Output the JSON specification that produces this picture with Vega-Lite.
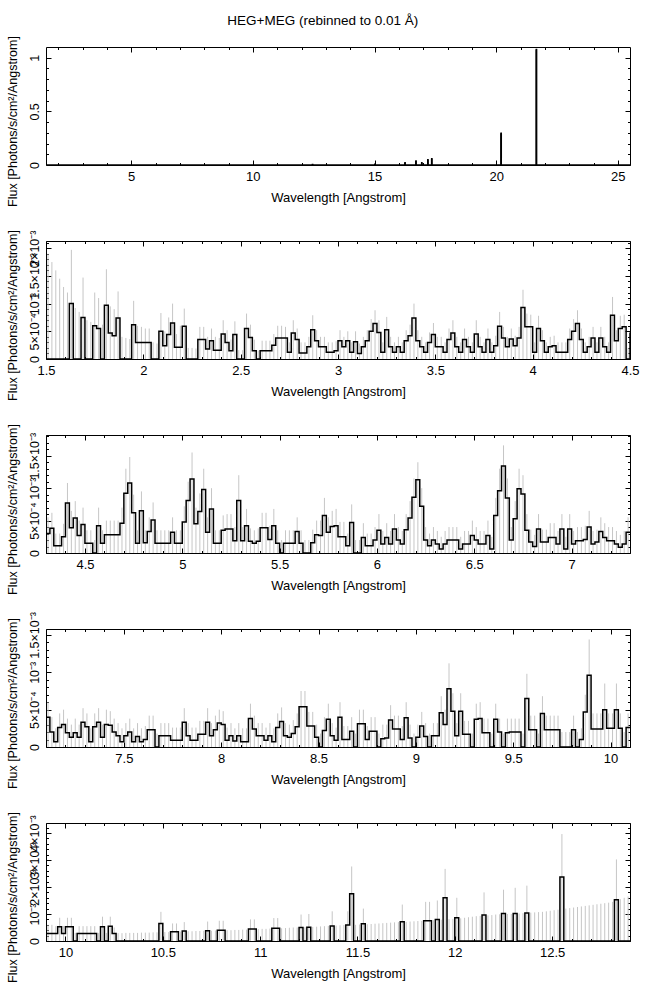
{
"$schema":"https://vega.github.io/schema/vega-lite/v6.json",
"padding":{"left":5,"top":13,"right":14,"bottom":5},
"title":{"text":"HEG+MEG (rebinned to 0.01 Å)","fontSize":13.5,"fontWeight":"normal","font":"Liberation Sans","anchor":"middle","offset":8,"color":"black"},
"config":{
 "view":{"stroke":"black","strokeWidth":1},
 "axis":{"labelFont":"Liberation Sans","labelFontSize":13,"titleFont":"Liberation Sans","titleFontSize":13,"titleFontWeight":"normal","labelColor":"black","titleColor":"black","tickColor":"black","domain":false,"grid":false,"labelOverlap":false,"labelFlush":false,"labelBound":false,"zindex":1,"tickWidth":1},
 "axisY":{"titleFontSize":12.5,"labelFontSize":12.5,"titleY":74}
},
"datasets":{
"p1":[{"w":1.5,"f":0},{"w":12.45,"f":0.004},{"w":12.46,"f":0},{"w":15.01,"f":0.006},{"w":15.02,"f":0},{"w":16.25,"f":0.02},{"w":16.26,"f":0},{"w":16.7,"f":0.037},{"w":16.71,"f":0},{"w":16.94,"f":0.02},{"w":16.95,"f":0},{"w":17.19,"f":0.05},{"w":17.2,"f":0},{"w":17.35,"f":0.058},{"w":17.36,"f":0},{"w":20.2,"f":0.296},{"w":20.21,"f":0},{"w":21.65,"f":1.077},{"w":21.66,"f":0},{"w":25.5,"f":0}],
"p2":[{"w":1.5,"f":0,"h":1.9e-3},{"w":1.52,"f":0,"h":1.75e-3},{"w":1.54,"f":0,"h":1.6e-3},{"w":1.56,"f":0,"h":1.45e-3},{"w":1.58,"f":0,"h":1.3e-3},{"w":1.6,"f":0,"h":1.2e-3},{"w":1.62,"f":1e-3,"h":1.97e-3},{"w":1.64,"f":0,"h":9.2e-4},{"w":1.66,"f":0,"h":8.5e-4},{"w":1.68,"f":7.5e-4,"h":1.47e-3},{"w":1.7,"f":0,"h":7e-4},{"w":1.72,"f":0,"h":6.7e-4},{"w":1.74,"f":6e-4,"h":1.2e-3},{"w":1.76,"f":5.5e-4,"h":1.1e-3},{"w":1.78,"f":0,"h":6.2e-4},{"w":1.8,"f":9.7e-4,"h":1.62e-3},{"w":1.82,"f":4.7e-4,"h":9.5e-4},{"w":1.84,"f":4.2e-4,"h":9e-4},{"w":1.86,"f":7.4e-4,"h":1.22e-3},{"w":1.88,"f":0,"h":4e-4},{"w":1.9,"f":0,"h":3.8e-4},{"w":1.92,"f":0,"h":3.6e-4},{"w":1.94,"f":6.2e-4,"h":1.05e-3},{"w":1.96,"f":3e-4,"h":6e-4},{"w":1.98,"f":3e-4,"h":5.8e-4},{"w":2,"f":3e-4,"h":5.5e-4},{"w":2.02,"f":3e-4,"h":5.5e-4},{"w":2.04,"f":0,"h":3e-4},{"w":2.06,"f":0,"h":2.8e-4},{"w":2.08,"f":5e-4,"h":8.3e-4},{"w":2.1,"f":2.4e-4,"h":5e-4},{"w":2.12,"f":4.4e-4,"h":7.5e-4},{"w":2.14,"f":6.5e-4,"h":1e-3},{"w":2.16,"f":2.1e-4,"h":4.5e-4},{"w":2.18,"f":2.1e-4,"h":6e-4},{"w":2.2,"f":5.9e-4,"h":9.1e-4},{"w":2.22,"f":0,"h":2e-4},{"w":2.24,"f":0,"h":2e-4},{"w":2.26,"f":0,"h":1.9e-4},{"w":2.28,"f":3.5e-4,"h":5.8e-4},{"w":2.3,"f":3.5e-4,"h":5.8e-4},{"w":2.32,"f":1.8e-4,"h":4e-4},{"w":2.34,"f":3.3e-4,"h":5.5e-4},{"w":2.36,"f":1.6e-4,"h":4e-4},{"w":2.38,"f":1.6e-4,"h":3.8e-4},{"w":2.4,"f":4.5e-4,"h":7e-4},{"w":2.42,"f":3e-4,"h":5.2e-4},{"w":2.44,"f":1.5e-4,"h":3.5e-4},{"w":2.46,"f":4.4e-4,"h":6.8e-4},{"w":2.48,"f":0,"h":1.6e-4},{"w":2.5,"f":0,"h":1.6e-4},{"w":2.52,"f":5.5e-4,"h":8.2e-4},{"w":2.54,"f":3.9e-4,"h":6.2e-4},{"w":2.56,"f":1.5e-4,"h":3.5e-4},{"w":2.58,"f":0,"h":1.5e-4},{"w":2.6,"f":1.5e-4,"h":3.3e-4},{"w":2.62,"f":1.5e-4,"h":3.3e-4},{"w":2.64,"f":1.5e-4,"h":3.3e-4},{"w":2.66,"f":2.5e-4,"h":4.5e-4},{"w":2.68,"f":3.8e-4,"h":6e-4},{"w":2.7,"f":3.8e-4,"h":6e-4},{"w":2.72,"f":3.8e-4,"h":5.8e-4},{"w":2.74,"f":1.2e-4,"h":3e-4},{"w":2.76,"f":4.7e-4,"h":7e-4},{"w":2.78,"f":3.5e-4,"h":5.5e-4},{"w":2.8,"f":1.1e-4,"h":3e-4},{"w":2.82,"f":1.1e-4,"h":3e-4},{"w":2.84,"f":2.2e-4,"h":4e-4},{"w":2.86,"f":5.3e-4,"h":7.9e-4},{"w":2.88,"f":3.3e-4,"h":5.2e-4},{"w":2.9,"f":2.2e-4,"h":4e-4},{"w":2.92,"f":2.2e-4,"h":4e-4},{"w":2.94,"f":1.2e-4,"h":3e-4},{"w":2.96,"f":1.2e-4,"h":3e-4},{"w":2.98,"f":1.5e-4,"h":3.2e-4},{"w":3,"f":3.3e-4,"h":5.2e-4},{"w":3.02,"f":2.2e-4,"h":4e-4},{"w":3.04,"f":3.3e-4,"h":5e-4},{"w":3.06,"f":1.2e-4,"h":3e-4},{"w":3.08,"f":3.1e-4,"h":5e-4},{"w":3.1,"f":1e-4,"h":2.8e-4},{"w":3.12,"f":2.2e-4,"h":4e-4},{"w":3.14,"f":3.3e-4,"h":5.2e-4},{"w":3.16,"f":5e-4,"h":7.2e-4},{"w":3.18,"f":6.4e-4,"h":8.8e-4},{"w":3.2,"f":4.8e-4,"h":7e-4},{"w":3.22,"f":1.2e-4,"h":3e-4},{"w":3.24,"f":5.3e-4,"h":7.6e-4},{"w":3.26,"f":2.2e-4,"h":4e-4},{"w":3.28,"f":1.2e-4,"h":3e-4},{"w":3.3,"f":2.2e-4,"h":4e-4},{"w":3.32,"f":1.2e-4,"h":3e-4},{"w":3.34,"f":3.3e-4,"h":5.2e-4},{"w":3.36,"f":4.2e-4,"h":6.2e-4},{"w":3.38,"f":7.4e-4,"h":1e-3},{"w":3.4,"f":3.3e-4,"h":5.2e-4},{"w":3.42,"f":2.2e-4,"h":4e-4},{"w":3.44,"f":1.2e-4,"h":3e-4},{"w":3.46,"f":3e-4,"h":4.8e-4},{"w":3.48,"f":4.4e-4,"h":6.5e-4},{"w":3.5,"f":2.2e-4,"h":4e-4},{"w":3.52,"f":2.2e-4,"h":4e-4},{"w":3.54,"f":1.2e-4,"h":3e-4},{"w":3.56,"f":3.5e-4,"h":5.5e-4},{"w":3.58,"f":4.7e-4,"h":7e-4},{"w":3.6,"f":2.2e-4,"h":4e-4},{"w":3.62,"f":1.2e-4,"h":3e-4},{"w":3.64,"f":3.5e-4,"h":5.5e-4},{"w":3.66,"f":2.2e-4,"h":4e-4},{"w":3.68,"f":1.2e-4,"h":3e-4},{"w":3.7,"f":4.5e-4,"h":7e-4},{"w":3.72,"f":2.2e-4,"h":4e-4},{"w":3.74,"f":1.2e-4,"h":3e-4},{"w":3.76,"f":3.5e-4,"h":5.5e-4},{"w":3.78,"f":1.2e-4,"h":3e-4},{"w":3.8,"f":2.4e-4,"h":4.2e-4},{"w":3.82,"f":5.9e-4,"h":8.5e-4},{"w":3.84,"f":3.8e-4,"h":5.8e-4},{"w":3.86,"f":2.2e-4,"h":4e-4},{"w":3.88,"f":3.6e-4,"h":5.5e-4},{"w":3.9,"f":2.4e-4,"h":4.2e-4},{"w":3.92,"f":3.8e-4,"h":5.8e-4},{"w":3.94,"f":9.3e-4,"h":1.25e-3},{"w":3.96,"f":5.8e-4,"h":8.2e-4},{"w":3.98,"f":5.8e-4,"h":8e-4},{"w":4,"f":1.2e-4,"h":3e-4},{"w":4.02,"f":5.5e-4,"h":7.8e-4},{"w":4.04,"f":3.3e-4,"h":5.2e-4},{"w":4.06,"f":1.2e-4,"h":3e-4},{"w":4.08,"f":2.2e-4,"h":4e-4},{"w":4.1,"f":2.4e-4,"h":4.2e-4},{"w":4.12,"f":1.2e-4,"h":3e-4},{"w":4.14,"f":1.2e-4,"h":3e-4},{"w":4.16,"f":1.2e-4,"h":3e-4},{"w":4.18,"f":3.5e-4,"h":5.5e-4},{"w":4.2,"f":5e-4,"h":7.2e-4},{"w":4.22,"f":6.4e-4,"h":8.8e-4},{"w":4.24,"f":3.5e-4,"h":5.5e-4},{"w":4.26,"f":1.2e-4,"h":3e-4},{"w":4.28,"f":2.2e-4,"h":4e-4},{"w":4.3,"f":3.8e-4,"h":5.8e-4},{"w":4.32,"f":1.2e-4,"h":3e-4},{"w":4.34,"f":3.8e-4,"h":5.8e-4},{"w":4.36,"f":2.2e-4,"h":4e-4},{"w":4.38,"f":1.2e-4,"h":3e-4},{"w":4.4,"f":7.9e-4,"h":1.12e-3},{"w":4.42,"f":3.3e-4,"h":5.2e-4},{"w":4.44,"f":5.5e-4,"h":7.8e-4},{"w":4.46,"f":5.8e-4,"h":8e-4},{"w":4.48,"f":0,"h":2e-4},{"w":4.5,"f":4.8e-4,"h":0}],
"p3":[{"w":4.3,"f":3e-4,"h":5.5e-4},{"w":4.32,"f":3.8e-4,"h":6.2e-4},{"w":4.34,"f":1.1e-4,"h":3e-4},{"w":4.36,"f":1.1e-4,"h":3e-4},{"w":4.38,"f":2.5e-4,"h":4.5e-4},{"w":4.4,"f":7.7e-4,"h":1.08e-3},{"w":4.42,"f":3.9e-4,"h":6.5e-4},{"w":4.44,"f":5.4e-4,"h":8e-4},{"w":4.46,"f":2.7e-4,"h":5e-4},{"w":4.48,"f":4.4e-4,"h":7e-4},{"w":4.5,"f":1.5e-4,"h":3.5e-4},{"w":4.52,"f":1.5e-4,"h":3.5e-4},{"w":4.54,"f":0,"h":2e-4},{"w":4.56,"f":4.2e-4,"h":7e-4},{"w":4.58,"f":1.5e-4,"h":3.5e-4},{"w":4.6,"f":2.8e-4,"h":5e-4},{"w":4.62,"f":2.8e-4,"h":5e-4},{"w":4.64,"f":2.8e-4,"h":5e-4},{"w":4.66,"f":2.8e-4,"h":5e-4},{"w":4.68,"f":4.6e-4,"h":7e-4},{"w":4.7,"f":9.2e-4,"h":1.3e-3},{"w":4.72,"f":1.08e-3,"h":1.48e-3},{"w":4.74,"f":6.2e-4,"h":9e-4},{"w":4.76,"f":1.5e-4,"h":3.5e-4},{"w":4.78,"f":6.5e-4,"h":9.5e-4},{"w":4.8,"f":1.6e-4,"h":3.5e-4},{"w":4.82,"f":3.3e-4,"h":5.5e-4},{"w":4.84,"f":5.1e-4,"h":7.8e-4},{"w":4.86,"f":1.5e-4,"h":3.5e-4},{"w":4.88,"f":1.5e-4,"h":3.5e-4},{"w":4.9,"f":1.5e-4,"h":3.5e-4},{"w":4.92,"f":1.5e-4,"h":3.5e-4},{"w":4.94,"f":3.2e-4,"h":5.5e-4},{"w":4.96,"f":1.5e-4,"h":3.5e-4},{"w":4.98,"f":1.5e-4,"h":3.5e-4},{"w":5,"f":4.8e-4,"h":7.2e-4},{"w":5.02,"f":8.1e-4,"h":1.1e-3},{"w":5.04,"f":1.14e-3,"h":1.55e-3},{"w":5.06,"f":4.5e-4,"h":7e-4},{"w":5.08,"f":6.4e-4,"h":9.2e-4},{"w":5.1,"f":9.8e-4,"h":1.3e-3},{"w":5.12,"f":3.2e-4,"h":5.5e-4},{"w":5.14,"f":6.8e-4,"h":1e-3},{"w":5.16,"f":1.5e-4,"h":3.5e-4},{"w":5.18,"f":1.5e-4,"h":3.5e-4},{"w":5.2,"f":3.5e-4,"h":5.8e-4},{"w":5.22,"f":3.7e-4,"h":6e-4},{"w":5.24,"f":3.7e-4,"h":6e-4},{"w":5.26,"f":1.9e-4,"h":4e-4},{"w":5.28,"f":8.1e-4,"h":1.2e-3},{"w":5.3,"f":1.9e-4,"h":4e-4},{"w":5.32,"f":4.2e-4,"h":6.8e-4},{"w":5.34,"f":1.8e-4,"h":3.8e-4},{"w":5.36,"f":1.5e-4,"h":3.5e-4},{"w":5.38,"f":1.8e-4,"h":3.8e-4},{"w":5.4,"f":3.9e-4,"h":6.2e-4},{"w":5.42,"f":3.9e-4,"h":6.2e-4},{"w":5.44,"f":2.1e-4,"h":4.2e-4},{"w":5.46,"f":4.2e-4,"h":6.8e-4},{"w":5.48,"f":1.5e-4,"h":3.5e-4},{"w":5.5,"f":0,"h":2e-4},{"w":5.52,"f":1.5e-4,"h":3.5e-4},{"w":5.54,"f":1.5e-4,"h":3.5e-4},{"w":5.56,"f":1.5e-4,"h":3.5e-4},{"w":5.58,"f":3.3e-4,"h":5.5e-4},{"w":5.6,"f":1.5e-4,"h":3.5e-4},{"w":5.62,"f":0,"h":2e-4},{"w":5.64,"f":0,"h":2e-4},{"w":5.66,"f":1.6e-4,"h":3.6e-4},{"w":5.68,"f":2.8e-4,"h":5e-4},{"w":5.7,"f":2.7e-4,"h":5e-4},{"w":5.72,"f":5.8e-4,"h":8.5e-4},{"w":5.74,"f":3.2e-4,"h":5.5e-4},{"w":5.76,"f":4.1e-4,"h":6.5e-4},{"w":5.78,"f":4.2e-4,"h":6.8e-4},{"w":5.8,"f":2.5e-4,"h":4.8e-4},{"w":5.82,"f":2.5e-4,"h":4.8e-4},{"w":5.84,"f":1.1e-4,"h":3e-4},{"w":5.86,"f":4.7e-4,"h":7.5e-4},{"w":5.88,"f":0,"h":2e-4},{"w":5.9,"f":0,"h":2e-4},{"w":5.92,"f":2.4e-4,"h":4.6e-4},{"w":5.94,"f":1.1e-4,"h":3e-4},{"w":5.96,"f":1.1e-4,"h":3e-4},{"w":5.98,"f":2e-4,"h":4e-4},{"w":6,"f":3.5e-4,"h":6e-4},{"w":6.02,"f":1.4e-4,"h":3.4e-4},{"w":6.04,"f":2.4e-4,"h":4.6e-4},{"w":6.06,"f":1.4e-4,"h":3.4e-4},{"w":6.08,"f":3.7e-4,"h":6e-4},{"w":6.1,"f":2e-4,"h":4e-4},{"w":6.12,"f":1.4e-4,"h":3.4e-4},{"w":6.14,"f":3.6e-4,"h":6e-4},{"w":6.16,"f":5.4e-4,"h":8e-4},{"w":6.18,"f":8.6e-4,"h":1.15e-3},{"w":6.2,"f":1.13e-3,"h":1.4e-3},{"w":6.22,"f":7.2e-4,"h":1e-3},{"w":6.24,"f":2e-4,"h":4e-4},{"w":6.26,"f":1.1e-4,"h":3e-4},{"w":6.28,"f":2e-4,"h":4e-4},{"w":6.3,"f":1.4e-4,"h":3.4e-4},{"w":6.32,"f":6e-5,"h":2.5e-4},{"w":6.34,"f":1.4e-4,"h":3.4e-4},{"w":6.36,"f":2e-4,"h":4e-4},{"w":6.38,"f":2e-4,"h":4e-4},{"w":6.4,"f":2e-4,"h":4e-4},{"w":6.42,"f":6e-5,"h":2.5e-4},{"w":6.44,"f":1.4e-4,"h":3.4e-4},{"w":6.46,"f":1.4e-4,"h":3.4e-4},{"w":6.48,"f":2.7e-4,"h":5e-4},{"w":6.5,"f":2e-4,"h":4e-4},{"w":6.52,"f":1.4e-4,"h":3.4e-4},{"w":6.54,"f":1.4e-4,"h":3.4e-4},{"w":6.56,"f":2.7e-4,"h":5e-4},{"w":6.58,"f":6e-5,"h":2.5e-4},{"w":6.6,"f":5.8e-4,"h":8.5e-4},{"w":6.62,"f":9.6e-4,"h":1.3e-3},{"w":6.64,"f":1.34e-3,"h":1.66e-3},{"w":6.66,"f":8.5e-4,"h":1.15e-3},{"w":6.68,"f":2e-4,"h":4e-4},{"w":6.7,"f":5.3e-4,"h":8e-4},{"w":6.72,"f":9.9e-4,"h":1.3e-3},{"w":6.74,"f":9.1e-4,"h":1.2e-3},{"w":6.76,"f":3.5e-4,"h":6e-4},{"w":6.78,"f":1.7e-4,"h":3.6e-4},{"w":6.8,"f":1e-4,"h":2.8e-4},{"w":6.82,"f":3.7e-4,"h":6e-4},{"w":6.84,"f":1.7e-4,"h":3.6e-4},{"w":6.86,"f":1.7e-4,"h":3.6e-4},{"w":6.88,"f":2.4e-4,"h":4.6e-4},{"w":6.9,"f":2.4e-4,"h":4.6e-4},{"w":6.92,"f":1.4e-4,"h":3.4e-4},{"w":6.94,"f":3.7e-4,"h":6e-4},{"w":6.96,"f":6e-5,"h":2.5e-4},{"w":6.98,"f":3.7e-4,"h":6e-4},{"w":7,"f":1.4e-4,"h":3.4e-4},{"w":7.02,"f":1.9e-4,"h":4e-4},{"w":7.04,"f":1.9e-4,"h":4e-4},{"w":7.06,"f":2.1e-4,"h":4.2e-4},{"w":7.08,"f":4e-4,"h":6.5e-4},{"w":7.1,"f":1.4e-4,"h":3.4e-4},{"w":7.12,"f":1.7e-4,"h":3.6e-4},{"w":7.14,"f":3.3e-4,"h":5.5e-4},{"w":7.16,"f":2.4e-4,"h":4.6e-4},{"w":7.18,"f":1.9e-4,"h":4e-4},{"w":7.2,"f":1.9e-4,"h":4e-4},{"w":7.22,"f":1.4e-4,"h":3.4e-4},{"w":7.24,"f":9e-5,"h":2.8e-4},{"w":7.26,"f":1.4e-4,"h":3.4e-4},{"w":7.28,"f":3.2e-4,"h":5.5e-4},{"w":7.3,"f":3.2e-4,"h":0}],
"p4":[{"w":7.1,"f":4e-4,"h":6e-4},{"w":7.12,"f":2e-4,"h":4e-4},{"w":7.14,"f":7e-5,"h":2.5e-4},{"w":7.16,"f":2.6e-4,"h":4.5e-4},{"w":7.18,"f":3e-4,"h":5e-4},{"w":7.2,"f":1.9e-4,"h":3.8e-4},{"w":7.22,"f":1.3e-4,"h":3e-4},{"w":7.24,"f":1.9e-4,"h":3.8e-4},{"w":7.26,"f":1.3e-4,"h":3e-4},{"w":7.28,"f":3.3e-4,"h":5.2e-4},{"w":7.3,"f":2.7e-4,"h":4.5e-4},{"w":7.32,"f":7e-5,"h":2.5e-4},{"w":7.34,"f":2.7e-4,"h":4.5e-4},{"w":7.36,"f":3.3e-4,"h":5.2e-4},{"w":7.38,"f":1.3e-4,"h":3e-4},{"w":7.4,"f":3e-4,"h":5e-4},{"w":7.42,"f":2.9e-4,"h":4.8e-4},{"w":7.44,"f":2e-4,"h":3.8e-4},{"w":7.46,"f":1.5e-4,"h":3.2e-4},{"w":7.48,"f":7e-5,"h":2.5e-4},{"w":7.5,"f":1.5e-4,"h":3.2e-4},{"w":7.52,"f":2e-4,"h":3.8e-4},{"w":7.54,"f":7e-5,"h":2.5e-4},{"w":7.56,"f":1.4e-4,"h":3.2e-4},{"w":7.58,"f":7e-5,"h":2.5e-4},{"w":7.6,"f":1e-4,"h":2.8e-4},{"w":7.62,"f":2.3e-4,"h":4.2e-4},{"w":7.64,"f":2.3e-4,"h":4.2e-4},{"w":7.66,"f":0,"h":1.8e-4},{"w":7.68,"f":1.5e-4,"h":3.2e-4},{"w":7.7,"f":1.5e-4,"h":3.2e-4},{"w":7.72,"f":1.5e-4,"h":3.2e-4},{"w":7.74,"f":9e-5,"h":2.6e-4},{"w":7.76,"f":9e-5,"h":2.6e-4},{"w":7.78,"f":9e-5,"h":2.6e-4},{"w":7.8,"f":3.3e-4,"h":5.2e-4},{"w":7.82,"f":1.5e-4,"h":3.2e-4},{"w":7.84,"f":9e-5,"h":2.6e-4},{"w":7.86,"f":9e-5,"h":2.6e-4},{"w":7.88,"f":1.7e-4,"h":3.5e-4},{"w":7.9,"f":1.7e-4,"h":3.5e-4},{"w":7.92,"f":3.3e-4,"h":5.2e-4},{"w":7.94,"f":1.5e-4,"h":3.2e-4},{"w":7.96,"f":2.3e-4,"h":4.2e-4},{"w":7.98,"f":3.2e-4,"h":5e-4},{"w":8,"f":3e-4,"h":4.8e-4},{"w":8.02,"f":9e-5,"h":2.6e-4},{"w":8.04,"f":1.5e-4,"h":3.2e-4},{"w":8.06,"f":8e-5,"h":2.5e-4},{"w":8.08,"f":1.5e-4,"h":3.2e-4},{"w":8.1,"f":7e-5,"h":2.5e-4},{"w":8.12,"f":7e-5,"h":2.5e-4},{"w":8.14,"f":3.8e-4,"h":5.8e-4},{"w":8.16,"f":2.4e-4,"h":4.2e-4},{"w":8.18,"f":1.5e-4,"h":3.2e-4},{"w":8.2,"f":1.5e-4,"h":3.2e-4},{"w":8.22,"f":9e-5,"h":2.6e-4},{"w":8.24,"f":1.5e-4,"h":3.2e-4},{"w":8.26,"f":7e-5,"h":2.5e-4},{"w":8.28,"f":2.6e-4,"h":4.5e-4},{"w":8.3,"f":3.4e-4,"h":5.3e-4},{"w":8.32,"f":1.5e-4,"h":3.2e-4},{"w":8.34,"f":1.3e-4,"h":3e-4},{"w":8.36,"f":1.8e-4,"h":3.6e-4},{"w":8.38,"f":2.7e-4,"h":4.5e-4},{"w":8.4,"f":5.4e-4,"h":7.5e-4},{"w":8.42,"f":5.4e-4,"h":7.5e-4},{"w":8.44,"f":2.8e-4,"h":4.7e-4},{"w":8.46,"f":2.8e-4,"h":4.7e-4},{"w":8.48,"f":1.3e-4,"h":3e-4},{"w":8.5,"f":0,"h":1.8e-4},{"w":8.52,"f":2.2e-4,"h":4e-4},{"w":8.54,"f":3.7e-4,"h":5.8e-4},{"w":8.56,"f":1.5e-4,"h":3.2e-4},{"w":8.58,"f":9e-5,"h":2.6e-4},{"w":8.6,"f":4e-4,"h":6e-4},{"w":8.62,"f":1e-4,"h":2.8e-4},{"w":8.64,"f":1e-4,"h":2.8e-4},{"w":8.66,"f":2.1e-4,"h":4e-4},{"w":8.68,"f":0,"h":1.8e-4},{"w":8.7,"f":3.1e-4,"h":5e-4},{"w":8.72,"f":3.1e-4,"h":5e-4},{"w":8.74,"f":1e-4,"h":2.8e-4},{"w":8.76,"f":2.1e-4,"h":4e-4},{"w":8.78,"f":2.1e-4,"h":4e-4},{"w":8.8,"f":0,"h":1.8e-4},{"w":8.82,"f":1.1e-4,"h":3e-4},{"w":8.84,"f":1.2e-4,"h":3e-4},{"w":8.86,"f":3.6e-4,"h":5.6e-4},{"w":8.88,"f":2.4e-4,"h":4.2e-4},{"w":8.9,"f":2.4e-4,"h":4.2e-4},{"w":8.92,"f":1e-4,"h":2.8e-4},{"w":8.94,"f":3.9e-4,"h":6e-4},{"w":8.96,"f":1.2e-4,"h":3e-4},{"w":8.98,"f":0,"h":1.8e-4},{"w":9,"f":1.3e-4,"h":3e-4},{"w":9.02,"f":2.8e-4,"h":4.7e-4},{"w":9.04,"f":1.4e-4,"h":3.2e-4},{"w":9.06,"f":0,"h":1.8e-4},{"w":9.08,"f":1.5e-4,"h":3.2e-4},{"w":9.1,"f":1.5e-4,"h":3.2e-4},{"w":9.12,"f":4.6e-4,"h":6.8e-4},{"w":9.14,"f":3e-4,"h":5e-4},{"w":9.16,"f":7.8e-4,"h":1.12e-3},{"w":9.18,"f":4.8e-4,"h":7.2e-4},{"w":9.2,"f":1.5e-4,"h":3.2e-4},{"w":9.22,"f":4.8e-4,"h":7.2e-4},{"w":9.24,"f":1.7e-4,"h":3.5e-4},{"w":9.26,"f":1.7e-4,"h":3.5e-4},{"w":9.28,"f":0,"h":1.8e-4},{"w":9.3,"f":3.7e-4,"h":5.8e-4},{"w":9.32,"f":3.8e-4,"h":6e-4},{"w":9.34,"f":1.9e-4,"h":3.8e-4},{"w":9.36,"f":1.9e-4,"h":3.8e-4},{"w":9.38,"f":0,"h":1.8e-4},{"w":9.4,"f":3.7e-4,"h":5.8e-4},{"w":9.42,"f":2e-4,"h":3.8e-4},{"w":9.44,"f":0,"h":1.8e-4},{"w":9.46,"f":1.9e-4,"h":3.8e-4},{"w":9.48,"f":2e-4,"h":3.8e-4},{"w":9.5,"f":2e-4,"h":3.8e-4},{"w":9.52,"f":2e-4,"h":3.8e-4},{"w":9.54,"f":0,"h":1.8e-4},{"w":9.56,"f":6.5e-4,"h":9.8e-4},{"w":9.58,"f":2.3e-4,"h":4.2e-4},{"w":9.6,"f":2.3e-4,"h":4.2e-4},{"w":9.62,"f":0,"h":1.8e-4},{"w":9.64,"f":4.5e-4,"h":6.8e-4},{"w":9.66,"f":2.3e-4,"h":4.2e-4},{"w":9.68,"f":2.3e-4,"h":4.2e-4},{"w":9.7,"f":2.3e-4,"h":4.2e-4},{"w":9.72,"f":2.3e-4,"h":4.2e-4},{"w":9.74,"f":0,"h":2e-4},{"w":9.76,"f":0,"h":2e-4},{"w":9.78,"f":0,"h":2e-4},{"w":9.8,"f":2.3e-4,"h":4.2e-4},{"w":9.82,"f":0,"h":2e-4},{"w":9.84,"f":1e-4,"h":2.5e-4},{"w":9.86,"f":4.7e-4,"h":7e-4},{"w":9.88,"f":9.6e-4,"h":1.44e-3},{"w":9.9,"f":2.4e-4,"h":4.5e-4},{"w":9.92,"f":2.4e-4,"h":4.5e-4},{"w":9.94,"f":2.4e-4,"h":4.5e-4},{"w":9.96,"f":5e-4,"h":8.5e-4},{"w":9.98,"f":2.5e-4,"h":4.5e-4},{"w":10,"f":2.5e-4,"h":4.5e-4},{"w":10.02,"f":5e-4,"h":8.5e-4},{"w":10.04,"f":2.5e-4,"h":4.5e-4},{"w":10.06,"f":0,"h":2e-4},{"w":10.08,"f":2.6e-4,"h":4.5e-4},{"w":10.1,"f":2.6e-4,"h":0}],
"p5":[{"w":9.9,"f":2.8e-4,"h":6e-4},{"w":9.92,"f":2.8e-4,"h":6e-4},{"w":9.94,"f":2.8e-4,"h":5.5e-4},{"w":9.96,"f":5.3e-4,"h":8.6e-4},{"w":9.98,"f":2.8e-4,"h":5.5e-4},{"w":10,"f":5.3e-4,"h":8.6e-4},{"w":10.02,"f":5.3e-4,"h":8.6e-4},{"w":10.04,"f":0,"h":3e-4},{"w":10.06,"f":2.8e-4,"h":5.5e-4},{"w":10.08,"f":2.8e-4,"h":5.5e-4},{"w":10.1,"f":2.8e-4,"h":5.5e-4},{"w":10.12,"f":2.8e-4,"h":5.5e-4},{"w":10.14,"f":2.8e-4,"h":5.5e-4},{"w":10.16,"f":0,"h":3e-4},{"w":10.18,"f":5.3e-4,"h":9e-4},{"w":10.2,"f":0,"h":3e-4},{"w":10.22,"f":5.5e-4,"h":9e-4},{"w":10.24,"f":2.8e-4,"h":5e-4},{"w":10.26,"f":0,"h":2.9e-4},{"w":10.28,"f":0,"h":2.9e-4},{"w":10.3,"f":0,"h":3e-4},{"w":10.32,"f":0,"h":3e-4},{"w":10.34,"f":0,"h":3e-4},{"w":10.36,"f":0,"h":3e-4},{"w":10.38,"f":0,"h":3.1e-4},{"w":10.4,"f":0,"h":3.1e-4},{"w":10.42,"f":0,"h":3.1e-4},{"w":10.44,"f":0,"h":3.2e-4},{"w":10.46,"f":0,"h":3.2e-4},{"w":10.48,"f":6.5e-4,"h":1.08e-3},{"w":10.5,"f":0,"h":3.3e-4},{"w":10.52,"f":0,"h":3.3e-4},{"w":10.54,"f":3.4e-4,"h":6.5e-4},{"w":10.56,"f":3.4e-4,"h":6.5e-4},{"w":10.58,"f":0,"h":3.5e-4},{"w":10.6,"f":3.7e-4,"h":7e-4},{"w":10.62,"f":0,"h":3.6e-4},{"w":10.64,"f":0,"h":3.6e-4},{"w":10.66,"f":0,"h":3.7e-4},{"w":10.68,"f":0,"h":3.7e-4},{"w":10.7,"f":0,"h":3.8e-4},{"w":10.72,"f":3.8e-4,"h":7.2e-4},{"w":10.74,"f":0,"h":3.8e-4},{"w":10.76,"f":0,"h":3.9e-4},{"w":10.78,"f":4e-4,"h":7.5e-4},{"w":10.8,"f":4e-4,"h":7.5e-4},{"w":10.82,"f":0,"h":4e-4},{"w":10.84,"f":0,"h":4e-4},{"w":10.86,"f":0,"h":4.1e-4},{"w":10.88,"f":0,"h":4.1e-4},{"w":10.9,"f":0,"h":4.2e-4},{"w":10.92,"f":0,"h":4.2e-4},{"w":10.94,"f":4.4e-4,"h":8e-4},{"w":10.96,"f":4.4e-4,"h":8e-4},{"w":10.98,"f":0,"h":4.4e-4},{"w":11,"f":0,"h":4.5e-4},{"w":11.02,"f":0,"h":4.5e-4},{"w":11.04,"f":0,"h":4.6e-4},{"w":11.06,"f":4.7e-4,"h":8.5e-4},{"w":11.08,"f":4.7e-4,"h":8.5e-4},{"w":11.1,"f":0,"h":4.7e-4},{"w":11.12,"f":0,"h":4.8e-4},{"w":11.14,"f":0,"h":4.9e-4},{"w":11.16,"f":0,"h":5e-4},{"w":11.18,"f":0,"h":5e-4},{"w":11.2,"f":5e-4,"h":9.8e-4},{"w":11.22,"f":0,"h":5.1e-4},{"w":11.24,"f":5.1e-4,"h":1e-3},{"w":11.26,"f":0,"h":5.2e-4},{"w":11.28,"f":0,"h":5.3e-4},{"w":11.3,"f":0,"h":5.4e-4},{"w":11.32,"f":0,"h":5.5e-4},{"w":11.34,"f":0,"h":5.6e-4},{"w":11.36,"f":5.6e-4,"h":1.1e-3},{"w":11.38,"f":0,"h":5.7e-4},{"w":11.4,"f":0,"h":5.8e-4},{"w":11.42,"f":0,"h":5.9e-4},{"w":11.44,"f":5.9e-4,"h":1.1e-3},{"w":11.46,"f":1.75e-3,"h":2.76e-3},{"w":11.48,"f":0,"h":6e-4},{"w":11.5,"f":0,"h":6.1e-4},{"w":11.52,"f":6.4e-4,"h":1.2e-3},{"w":11.54,"f":0,"h":6.2e-4},{"w":11.56,"f":0,"h":6.3e-4},{"w":11.58,"f":0,"h":6.4e-4},{"w":11.6,"f":0,"h":6.5e-4},{"w":11.62,"f":0,"h":6.6e-4},{"w":11.64,"f":0,"h":6.7e-4},{"w":11.66,"f":0,"h":6.8e-4},{"w":11.68,"f":0,"h":6.9e-4},{"w":11.7,"f":0,"h":7e-4},{"w":11.72,"f":7.1e-4,"h":1.35e-3},{"w":11.74,"f":0,"h":7.1e-4},{"w":11.76,"f":0,"h":7.2e-4},{"w":11.78,"f":0,"h":7.3e-4},{"w":11.8,"f":0,"h":7.4e-4},{"w":11.82,"f":0,"h":7.4e-4},{"w":11.84,"f":7.5e-4,"h":1.45e-3},{"w":11.86,"f":7.5e-4,"h":1.45e-3},{"w":11.88,"f":0,"h":7.7e-4},{"w":11.9,"f":8e-4,"h":1.5e-3},{"w":11.92,"f":0,"h":7.9e-4},{"w":11.94,"f":1.6e-3,"h":2.67e-3},{"w":11.96,"f":0,"h":8.1e-4},{"w":11.98,"f":0,"h":8.2e-4},{"w":12,"f":8.6e-4,"h":1.6e-3},{"w":12.02,"f":0,"h":8.4e-4},{"w":12.04,"f":0,"h":8.6e-4},{"w":12.06,"f":0,"h":8.8e-4},{"w":12.08,"f":0,"h":9e-4},{"w":12.1,"f":0,"h":9.2e-4},{"w":12.12,"f":0,"h":9.3e-4},{"w":12.14,"f":9.6e-4,"h":1.8e-3},{"w":12.16,"f":0,"h":9.5e-4},{"w":12.18,"f":0,"h":9.6e-4},{"w":12.2,"f":0,"h":9.8e-4},{"w":12.22,"f":0,"h":9.9e-4},{"w":12.24,"f":1.02e-3,"h":1.9e-3},{"w":12.26,"f":0,"h":1e-3},{"w":12.28,"f":0,"h":1e-3},{"w":12.3,"f":1.02e-3,"h":1.97e-3},{"w":12.32,"f":0,"h":1.02e-3},{"w":12.34,"f":0,"h":1.03e-3},{"w":12.36,"f":1.04e-3,"h":2.05e-3},{"w":12.38,"f":0,"h":1.05e-3},{"w":12.4,"f":0,"h":1.06e-3},{"w":12.42,"f":0,"h":1.07e-3},{"w":12.44,"f":0,"h":1.08e-3},{"w":12.46,"f":0,"h":1.1e-3},{"w":12.48,"f":0,"h":1.12e-3},{"w":12.5,"f":0,"h":1.14e-3},{"w":12.52,"f":0,"h":1.16e-3},{"w":12.54,"f":2.37e-3,"h":3.96e-3},{"w":12.56,"f":0,"h":1.2e-3},{"w":12.58,"f":0,"h":1.22e-3},{"w":12.6,"f":0,"h":1.24e-3},{"w":12.62,"f":0,"h":1.26e-3},{"w":12.64,"f":0,"h":1.28e-3},{"w":12.66,"f":0,"h":1.3e-3},{"w":12.68,"f":0,"h":1.32e-3},{"w":12.7,"f":0,"h":1.34e-3},{"w":12.72,"f":0,"h":1.36e-3},{"w":12.74,"f":0,"h":1.38e-3},{"w":12.76,"f":0,"h":1.4e-3},{"w":12.78,"f":0,"h":1.42e-3},{"w":12.8,"f":0,"h":1.45e-3},{"w":12.82,"f":1.53e-3,"h":3.02e-3},{"w":12.84,"f":0,"h":1.55e-3},{"w":12.86,"f":0,"h":1.6e-3},{"w":12.88,"f":0,"h":1.65e-3},{"w":12.9,"f":0,"h":0}]
},
"vconcat":[
{"width":584,"height":118,
 "layer":[
  {"data":{"name":"p1"},"mark":{"type":"rule","color":"black","strokeWidth":1.5,"clip":true},
   "encoding":{
    "x":{"field":"w","type":"quantitative","scale":{"domain":[1.5,25.5],"nice":false,"zero":false},"axis":{"orient":"top","labels":false,"title":null,"values":[2,3,4,5,6,7,8,9,10,11,12,13,14,15,16,17,18,19,20,21,22,23,24,25],"tickSize":{"condition":{"test":"datum.value%5==0","value":-5},"value":-2.5}}},
    "y":{"field":"f","type":"quantitative","scale":{"domain":[0,1.1],"nice":false},"axis":{"orient":"right","labels":false,"title":null,"values":[0,0.1,0.2,0.3,0.4,0.5,0.6,0.7,0.8,0.9,1],"tickSize":{"condition":{"test":"abs(datum.value*2-round(datum.value*2))<1e-6","value":-5},"value":-2.5}}},
    "y2":{"datum":0}}},
  {"data":{"name":"p1"},"mark":{"type":"line","interpolate":"step-after","color":"black","strokeWidth":1.5,"clip":true},
   "encoding":{
    "x":{"field":"w","type":"quantitative","scale":{"domain":[1.5,25.5],"nice":false,"zero":false},"axis":{"orient":"bottom","title":"Wavelength [Angstrom]","format":"~g","values":[2,3,4,5,6,7,8,9,10,11,12,13,14,15,16,17,18,19,20,21,22,23,24,25],"labelExpr":"datum.value%5==0?datum.label:''","labelPadding":10,"titlePadding":6,"tickSize":{"condition":{"test":"datum.value%5==0","value":-5},"value":-2.5}}},
    "y":{"field":"f","type":"quantitative","scale":{"domain":[0,1.1],"nice":false},"axis":{"orient":"left","title":"Flux [Photons/s/cm²/Angstrom]","format":"~g","values":[0,0.1,0.2,0.3,0.4,0.5,0.6,0.7,0.8,0.9,1],"labelExpr":"abs(datum.value*2-round(datum.value*2))<1e-6?datum.label:''","labelAngle":-90,"labelAlign":"center","labelBaseline":"bottom","labelPadding":10,"titlePadding":6,"tickSize":{"condition":{"test":"abs(datum.value*2-round(datum.value*2))<1e-6","value":-5},"value":-2.5}}}}}
 ],
 "resolve":{"axis":{"x":"independent","y":"independent"}}},
{"width":584,"height":118,
 "layer":[
  {"data":{"name":"p2"},"mark":{"type":"rule","color":"#c6c6c6","strokeWidth":1,"clip":true,"xOffset":2},
   "encoding":{
    "x":{"field":"w","type":"quantitative","scale":{"domain":[1.5,4.5],"nice":false,"zero":false},"axis":{"orient":"top","labels":false,"title":null,"values":[1.5,1.6,1.7,1.8,1.9,2,2.1,2.2,2.3,2.4,2.5,2.6,2.7,2.8,2.9,3,3.1,3.2,3.3,3.4,3.5,3.6,3.7,3.8,3.9,4,4.1,4.2,4.3,4.4,4.5],"tickSize":{"condition":{"test":"abs(datum.value*2-round(datum.value*2))<1e-6","value":-5},"value":-2.5}}},
    "y":{"field":"h","type":"quantitative","scale":{"domain":[0,0.00213],"nice":false},"axis":{"orient":"right","labels":false,"title":null,"values":[0,1e-4,2e-4,3e-4,4e-4,5e-4,6e-4,7e-4,8e-4,9e-4,1e-3,1.1e-3,1.2e-3,1.3e-3,1.4e-3,1.5e-3,1.6e-3,1.7e-3,1.8e-3,1.9e-3,2e-3,2.1e-3],"tickSize":{"condition":{"test":"abs(datum.value/5e-4-round(datum.value/5e-4))<1e-6","value":-5},"value":-2.5}}},
    "y2":{"datum":0}}},
  {"data":{"name":"p2"},"mark":{"type":"line","interpolate":"step-after","color":"black","strokeWidth":1.5,"clip":true},
   "encoding":{
    "x":{"field":"w","type":"quantitative","scale":{"domain":[1.5,4.5],"nice":false,"zero":false},"axis":{"orient":"bottom","title":"Wavelength [Angstrom]","format":"~g","values":[1.5,1.6,1.7,1.8,1.9,2,2.1,2.2,2.3,2.4,2.5,2.6,2.7,2.8,2.9,3,3.1,3.2,3.3,3.4,3.5,3.6,3.7,3.8,3.9,4,4.1,4.2,4.3,4.4,4.5],"labelExpr":"abs(datum.value*2-round(datum.value*2))<1e-6?datum.label:''","labelPadding":10,"titlePadding":6,"tickSize":{"condition":{"test":"abs(datum.value*2-round(datum.value*2))<1e-6","value":-5},"value":-2.5}}},
    "y":{"field":"f","type":"quantitative","scale":{"domain":[0,0.00213],"nice":false},"axis":{"orient":"left","title":"Flux [Photons/s/cm²/Angstrom]","values":[0,1e-4,2e-4,3e-4,4e-4,5e-4,6e-4,7e-4,8e-4,9e-4,1e-3,1.1e-3,1.2e-3,1.3e-3,1.4e-3,1.5e-3,1.6e-3,1.7e-3,1.8e-3,1.9e-3,2e-3,2.1e-3],"labelExpr":"abs(datum.value)<1e-9?'0':abs(datum.value-5e-4)<1e-9?'5×10⁻⁴':abs(datum.value-1e-3)<1e-9?'10⁻³':abs(datum.value-1.5e-3)<1e-9?'1.5×10⁻³':abs(datum.value-2e-3)<1e-9?'2×10⁻³':''","labelAngle":-90,"labelAlign":"center","labelBaseline":"bottom","labelPadding":10,"titlePadding":6,"tickSize":{"condition":{"test":"abs(datum.value/5e-4-round(datum.value/5e-4))<1e-6","value":-5},"value":-2.5}}}}}
 ],
 "resolve":{"axis":{"x":"independent","y":"independent"}}},
{"width":584,"height":118,
 "layer":[
  {"data":{"name":"p3"},"mark":{"type":"rule","color":"#c6c6c6","strokeWidth":1,"clip":true,"xOffset":2},
   "encoding":{
    "x":{"field":"w","type":"quantitative","scale":{"domain":[4.3,7.3],"nice":false,"zero":false},"axis":{"orient":"top","labels":false,"title":null,"values":[4.3,4.4,4.5,4.6,4.7,4.8,4.9,5,5.1,5.2,5.3,5.4,5.5,5.6,5.7,5.8,5.9,6,6.1,6.2,6.3,6.4,6.5,6.6,6.7,6.8,6.9,7,7.1,7.2,7.3],"tickSize":{"condition":{"test":"abs(datum.value*2-round(datum.value*2))<1e-6","value":-5},"value":-2.5}}},
    "y":{"field":"h","type":"quantitative","scale":{"domain":[0,0.00182],"nice":false},"axis":{"orient":"right","labels":false,"title":null,"values":[0,1e-4,2e-4,3e-4,4e-4,5e-4,6e-4,7e-4,8e-4,9e-4,1e-3,1.1e-3,1.2e-3,1.3e-3,1.4e-3,1.5e-3,1.6e-3,1.7e-3,1.8e-3],"tickSize":{"condition":{"test":"abs(datum.value/5e-4-round(datum.value/5e-4))<1e-6","value":-5},"value":-2.5}}},
    "y2":{"datum":0}}},
  {"data":{"name":"p3"},"mark":{"type":"line","interpolate":"step-after","color":"black","strokeWidth":1.5,"clip":true},
   "encoding":{
    "x":{"field":"w","type":"quantitative","scale":{"domain":[4.3,7.3],"nice":false,"zero":false},"axis":{"orient":"bottom","title":"Wavelength [Angstrom]","format":"~g","values":[4.3,4.4,4.5,4.6,4.7,4.8,4.9,5,5.1,5.2,5.3,5.4,5.5,5.6,5.7,5.8,5.9,6,6.1,6.2,6.3,6.4,6.5,6.6,6.7,6.8,6.9,7,7.1,7.2,7.3],"labelExpr":"abs(datum.value*2-round(datum.value*2))<1e-6?datum.label:''","labelPadding":10,"titlePadding":6,"tickSize":{"condition":{"test":"abs(datum.value*2-round(datum.value*2))<1e-6","value":-5},"value":-2.5}}},
    "y":{"field":"f","type":"quantitative","scale":{"domain":[0,0.00182],"nice":false},"axis":{"orient":"left","title":"Flux [Photons/s/cm²/Angstrom]","values":[0,1e-4,2e-4,3e-4,4e-4,5e-4,6e-4,7e-4,8e-4,9e-4,1e-3,1.1e-3,1.2e-3,1.3e-3,1.4e-3,1.5e-3,1.6e-3,1.7e-3,1.8e-3],"labelExpr":"abs(datum.value)<1e-9?'0':abs(datum.value-5e-4)<1e-9?'5×10⁻⁴':abs(datum.value-1e-3)<1e-9?'10⁻³':abs(datum.value-1.5e-3)<1e-9?'1.5×10⁻³':''","labelAngle":-90,"labelAlign":"center","labelBaseline":"bottom","labelPadding":10,"titlePadding":6,"tickSize":{"condition":{"test":"abs(datum.value/5e-4-round(datum.value/5e-4))<1e-6","value":-5},"value":-2.5}}}}}
 ],
 "resolve":{"axis":{"x":"independent","y":"independent"}}},
{"width":584,"height":118,
 "layer":[
  {"data":{"name":"p4"},"mark":{"type":"rule","color":"#c6c6c6","strokeWidth":1,"clip":true,"xOffset":2},
   "encoding":{
    "x":{"field":"w","type":"quantitative","scale":{"domain":[7.1,10.1],"nice":false,"zero":false},"axis":{"orient":"top","labels":false,"title":null,"values":[7.1,7.2,7.3,7.4,7.5,7.6,7.7,7.8,7.9,8,8.1,8.2,8.3,8.4,8.5,8.6,8.7,8.8,8.9,9,9.1,9.2,9.3,9.4,9.5,9.6,9.7,9.8,9.9,10,10.1],"tickSize":{"condition":{"test":"abs(datum.value*2-round(datum.value*2))<1e-6","value":-5},"value":-2.5}}},
    "y":{"field":"h","type":"quantitative","scale":{"domain":[0,0.00158],"nice":false},"axis":{"orient":"right","labels":false,"title":null,"values":[0,1e-4,2e-4,3e-4,4e-4,5e-4,6e-4,7e-4,8e-4,9e-4,1e-3,1.1e-3,1.2e-3,1.3e-3,1.4e-3,1.5e-3],"tickSize":{"condition":{"test":"abs(datum.value/5e-4-round(datum.value/5e-4))<1e-6","value":-5},"value":-2.5}}},
    "y2":{"datum":0}}},
  {"data":{"name":"p4"},"mark":{"type":"line","interpolate":"step-after","color":"black","strokeWidth":1.5,"clip":true},
   "encoding":{
    "x":{"field":"w","type":"quantitative","scale":{"domain":[7.1,10.1],"nice":false,"zero":false},"axis":{"orient":"bottom","title":"Wavelength [Angstrom]","format":"~g","values":[7.1,7.2,7.3,7.4,7.5,7.6,7.7,7.8,7.9,8,8.1,8.2,8.3,8.4,8.5,8.6,8.7,8.8,8.9,9,9.1,9.2,9.3,9.4,9.5,9.6,9.7,9.8,9.9,10,10.1],"labelExpr":"abs(datum.value*2-round(datum.value*2))<1e-6?datum.label:''","labelPadding":10,"titlePadding":6,"tickSize":{"condition":{"test":"abs(datum.value*2-round(datum.value*2))<1e-6","value":-5},"value":-2.5}}},
    "y":{"field":"f","type":"quantitative","scale":{"domain":[0,0.00158],"nice":false},"axis":{"orient":"left","title":"Flux [Photons/s/cm²/Angstrom]","values":[0,1e-4,2e-4,3e-4,4e-4,5e-4,6e-4,7e-4,8e-4,9e-4,1e-3,1.1e-3,1.2e-3,1.3e-3,1.4e-3,1.5e-3],"labelExpr":"abs(datum.value)<1e-9?'0':abs(datum.value-5e-4)<1e-9?'5×10⁻⁴':abs(datum.value-1e-3)<1e-9?'10⁻³':abs(datum.value-1.5e-3)<1e-9?'1.5×10⁻³':''","labelAngle":-90,"labelAlign":"center","labelBaseline":"bottom","labelPadding":10,"titlePadding":6,"tickSize":{"condition":{"test":"abs(datum.value/5e-4-round(datum.value/5e-4))<1e-6","value":-5},"value":-2.5}}}}}
 ],
 "resolve":{"axis":{"x":"independent","y":"independent"}}},
{"width":584,"height":118,
 "layer":[
  {"data":{"name":"p5"},"mark":{"type":"rule","color":"#c6c6c6","strokeWidth":1,"clip":true,"xOffset":2},
   "encoding":{
    "x":{"field":"w","type":"quantitative","scale":{"domain":[9.9,12.9],"nice":false,"zero":false},"axis":{"orient":"top","labels":false,"title":null,"values":[9.9,10,10.1,10.2,10.3,10.4,10.5,10.6,10.7,10.8,10.9,11,11.1,11.2,11.3,11.4,11.5,11.6,11.7,11.8,11.9,12,12.1,12.2,12.3,12.4,12.5,12.6,12.7,12.8,12.9],"tickSize":{"condition":{"test":"abs(datum.value*2-round(datum.value*2))<1e-6","value":-5},"value":-2.5}}},
    "y":{"field":"h","type":"quantitative","scale":{"domain":[0,0.00437],"nice":false},"axis":{"orient":"right","labels":false,"title":null,"values":[0,2e-4,4e-4,6e-4,8e-4,1e-3,1.2e-3,1.4e-3,1.6e-3,1.8e-3,2e-3,2.2e-3,2.4e-3,2.6e-3,2.8e-3,3e-3,3.2e-3,3.4e-3,3.6e-3,3.8e-3,4e-3,4.2e-3],"tickSize":{"condition":{"test":"abs(datum.value/1e-3-round(datum.value/1e-3))<1e-6","value":-5},"value":-2.5}}},
    "y2":{"datum":0}}},
  {"data":{"name":"p5"},"mark":{"type":"line","interpolate":"step-after","color":"black","strokeWidth":1.5,"clip":true},
   "encoding":{
    "x":{"field":"w","type":"quantitative","scale":{"domain":[9.9,12.9],"nice":false,"zero":false},"axis":{"orient":"bottom","title":"Wavelength [Angstrom]","format":"~g","values":[9.9,10,10.1,10.2,10.3,10.4,10.5,10.6,10.7,10.8,10.9,11,11.1,11.2,11.3,11.4,11.5,11.6,11.7,11.8,11.9,12,12.1,12.2,12.3,12.4,12.5,12.6,12.7,12.8,12.9],"labelExpr":"abs(datum.value*2-round(datum.value*2))<1e-6?datum.label:''","labelPadding":10,"titlePadding":6,"tickSize":{"condition":{"test":"abs(datum.value*2-round(datum.value*2))<1e-6","value":-5},"value":-2.5}}},
    "y":{"field":"f","type":"quantitative","scale":{"domain":[0,0.00437],"nice":false},"axis":{"orient":"left","title":"Flux [Photons/s/cm²/Angstrom]","values":[0,2e-4,4e-4,6e-4,8e-4,1e-3,1.2e-3,1.4e-3,1.6e-3,1.8e-3,2e-3,2.2e-3,2.4e-3,2.6e-3,2.8e-3,3e-3,3.2e-3,3.4e-3,3.6e-3,3.8e-3,4e-3,4.2e-3],"labelExpr":"abs(datum.value)<1e-9?'0':abs(datum.value-1e-3)<1e-9?'10⁻³':abs(datum.value-2e-3)<1e-9?'2×10⁻³':abs(datum.value-3e-3)<1e-9?'3×10⁻³':abs(datum.value-4e-3)<1e-9?'4×10⁻³':''","labelAngle":-90,"labelAlign":"center","labelBaseline":"bottom","labelPadding":10,"titlePadding":6,"tickSize":{"condition":{"test":"abs(datum.value/1e-3-round(datum.value/1e-3))<1e-6","value":-5},"value":-2.5}}}}}
 ],
 "resolve":{"axis":{"x":"independent","y":"independent"}}}
],
"spacing":76,
"bounds":"flush"
}
